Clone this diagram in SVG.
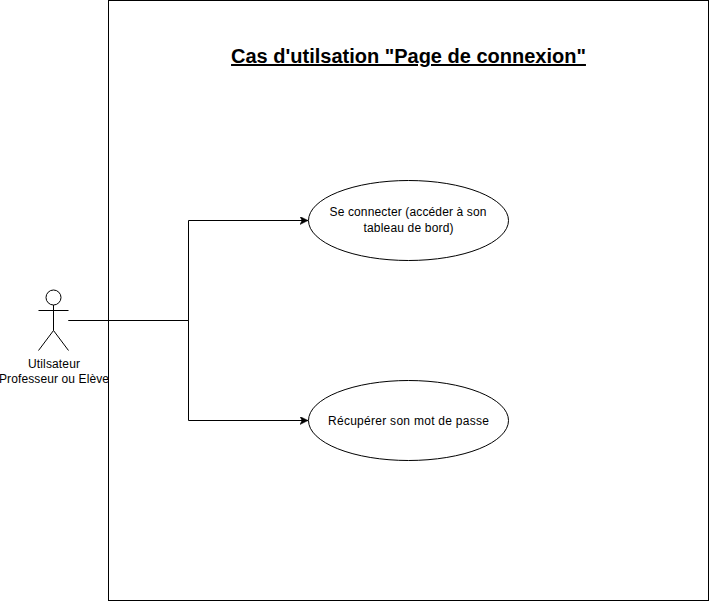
<svg xmlns="http://www.w3.org/2000/svg" width="709" height="601" viewBox="0 0 709 601">
<style>
text{font-family:"Liberation Sans",Arial,sans-serif;font-size:12px;fill:#000;text-anchor:middle}
.s{fill:#fff;stroke:#000;stroke-width:1}
.l{fill:none;stroke:#000;stroke-width:1}
</style>
<defs><marker id="a" markerWidth="10" markerHeight="10" refX="8" refY="4" orient="auto" markerUnits="userSpaceOnUse"><path d="M0 0L8 4L0 8L2 4Z" fill="#000" stroke="#000" stroke-width="0.5"/></marker></defs>
<rect width="709" height="601" fill="#fff"/>
<g id="frame"><rect class="s" x="108.500" y="0.500" width="600" height="600"/></g>
<g id="title"><text x="408.500" y="63" style="font-size:20px;font-weight:bold;text-decoration:underline">Cas d'utilsation "Page de connexion"</text></g>
<g id="connectors">
<path class="l" d="M68.500 320.500H188.500V220.500H308" marker-end="url(#a)"/>
<path class="l" d="M68.500 320.500H188.500V420.500H308" marker-end="url(#a)"/>
</g>
<g id="actor">
<circle class="s" cx="53.500" cy="297.500" r="7.500"/>
<path class="l" d="M53.500 305V330.500M38.500 310.500H68.500M38.500 350.500L53.500 330.500L68.500 350.500"/>
<text x="54" y="368" textLength="52">Utilsateur</text>
<text x="54" y="383" textLength="110">Professeur ou Elève</text>
</g>
<g id="uc1"><ellipse class="s" cx="408.500" cy="220.500" rx="100" ry="40"/>
<text x="408" y="216" textLength="157">Se connecter (accéder à son</text>
<text x="408.500" y="232" textLength="90">tableau de bord)</text></g>
<g id="uc2"><ellipse class="s" cx="408.500" cy="420.500" rx="100" ry="40"/>
<text x="408.500" y="425" textLength="161">Récupérer son mot de passe</text></g>
</svg>
